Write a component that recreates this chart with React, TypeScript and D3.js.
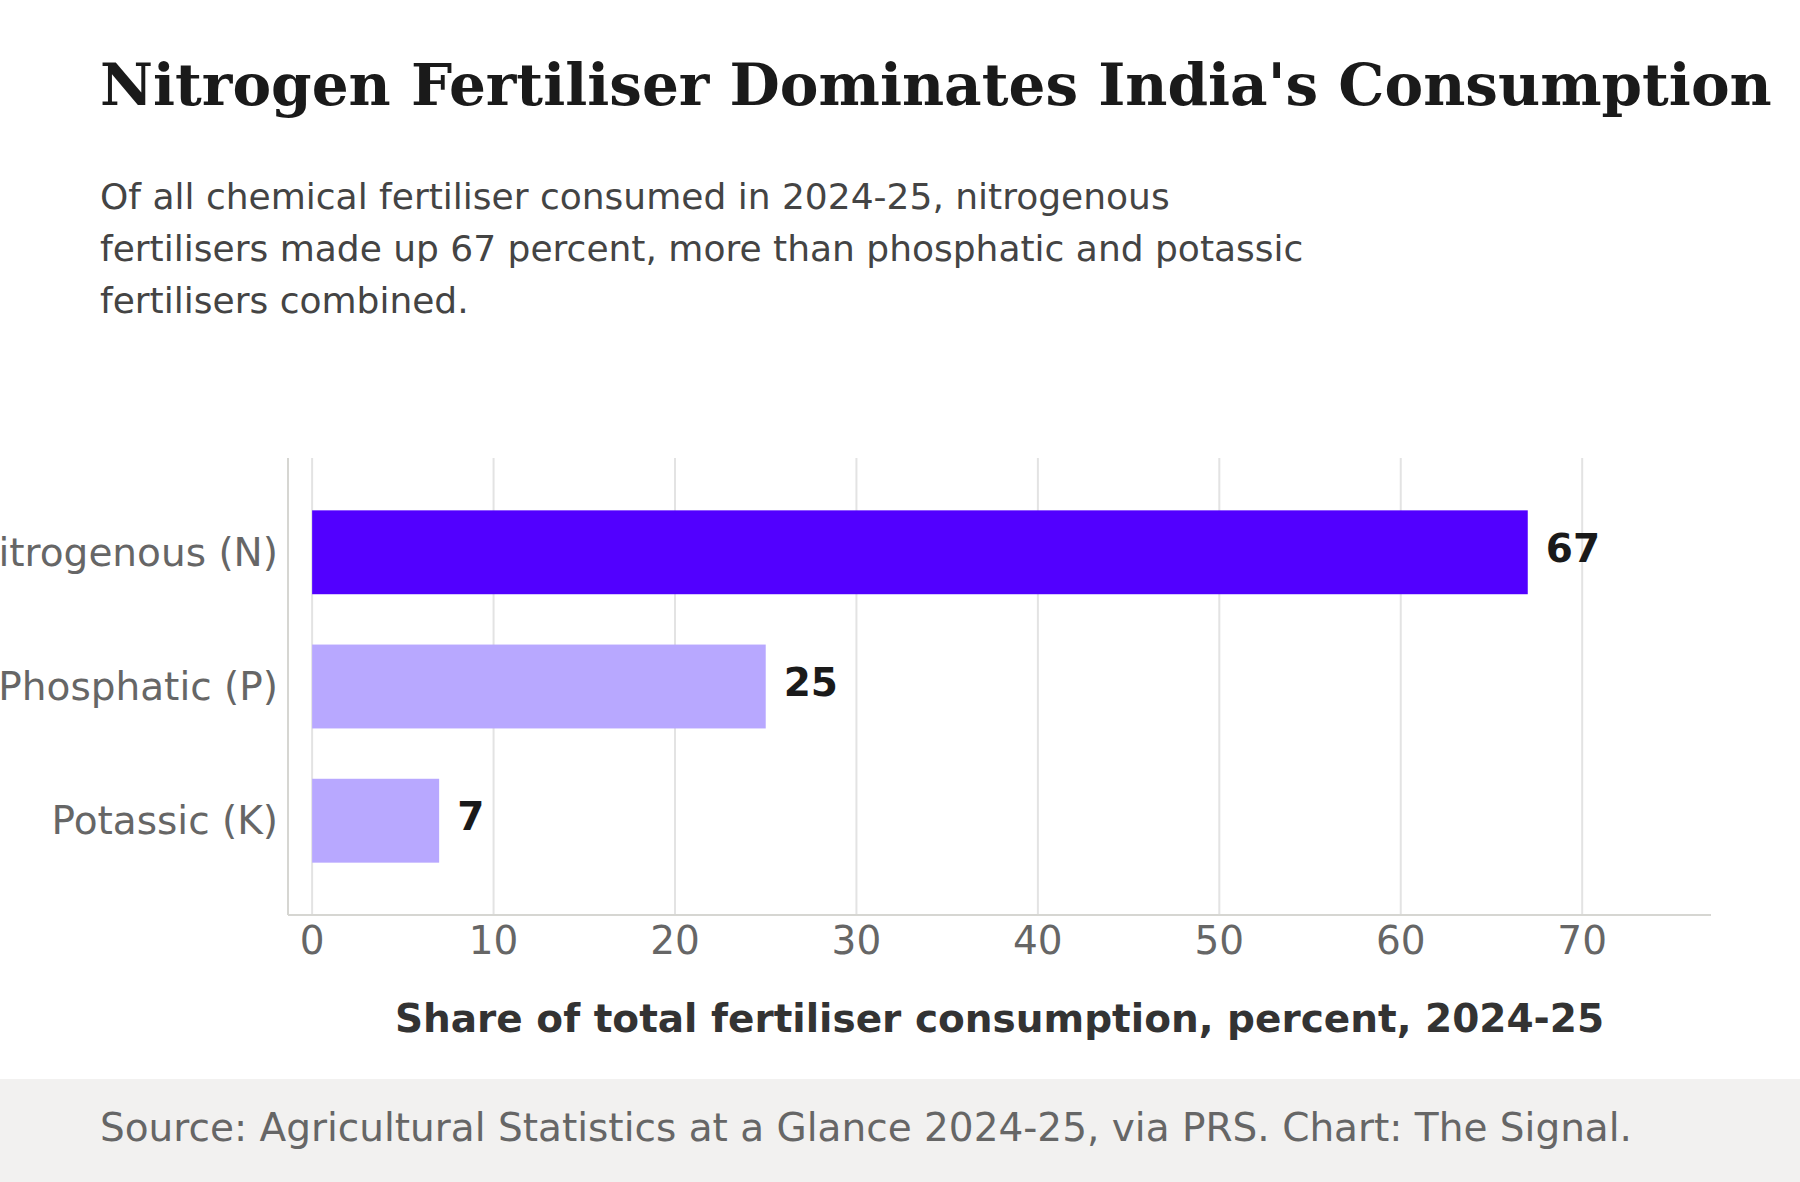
import * as d3 from "d3";
import { useEffect, useRef } from "react";

const categories = ["Nitrogenous (N)", "Phosphatic (P)", "Potassic (K)"];
const shares = [67, 25, 7];
const highlight = ["Nitrogenous (N)"];
const xTicks = [0, 10, 20, 30, 40, 50, 60, 70];

const title = "Nitrogen Fertiliser Dominates India's Consumption";
const subtitle = [
  "Of all chemical fertiliser consumed in 2024-25, nitrogenous",
  "fertilisers made up 67 percent, more than phosphatic and potassic",
  "fertilisers combined.",
];
const xLabel = "Share of total fertiliser consumption, percent, 2024-25";
const source = "Source: Agricultural Statistics at a Glance 2024-25, via PRS. Chart: The Signal.";

const W = 1800;
const H = 1182;
const SANS = "'DejaVu Sans', sans-serif";

export default function App() {
  const ref = useRef<SVGSVGElement>(null);

  useEffect(() => {
    document.body.style.margin = "0";
    if (!ref.current) return;
    const svg = d3.select(ref.current);
    svg.selectAll("*").remove();

    const m = { top: 458, right: 89, bottom: 267, left: 288 };
    const x = d3.scaleLinear().domain([-1.33, 77.1]).range([m.left, W - m.right]);
    const y = d3
      .scaleBand()
      .domain(categories)
      .range([m.top, H - m.bottom])
      .paddingInner(0.375)
      .paddingOuter(0.39);

    svg.append("rect").attr("width", W).attr("height", H).attr("fill", "#ffffff");

    // title + subtitle
    svg.append("text").attr("x", 100).attr("y", 105)
      .attr("font-family", "'DejaVu Serif', serif").attr("font-weight", "bold")
      .attr("font-size", 58).attr("fill", "#1a1a1a").text(title);
    svg.append("g").selectAll("text").data(subtitle).enter().append("text")
      .attr("x", 100).attr("y", (_, i) => 209 + i * 52)
      .attr("font-family", SANS).attr("font-size", 36).attr("fill", "#444444")
      .text((d) => d);

    // gridlines
    svg.append("g").selectAll("line").data(xTicks).enter().append("line")
      .attr("x1", (d) => x(d)).attr("x2", (d) => x(d))
      .attr("y1", m.top).attr("y2", H - m.bottom)
      .attr("stroke", "#e3e3e3").attr("stroke-width", 2);

    // bars
    svg.append("g").selectAll("rect").data(categories).enter().append("rect")
      .attr("x", x(0)).attr("y", (d) => y(d) ?? 0)
      .attr("width", (_, i) => x(shares[i]) - x(0))
      .attr("height", y.bandwidth())
      .attr("fill", (d) => (highlight.includes(d) ? "#5200ff" : "#b8a8ff"));

    // value labels
    svg.append("g").selectAll("text").data(categories).enter().append("text")
      .attr("x", (_, i) => x(shares[i]) + 18)
      .attr("y", (d) => (y(d) ?? 0) + y.bandwidth() / 2 - 1)
      .attr("dominant-baseline", "middle")
      .attr("font-family", SANS).attr("font-weight", "bold").attr("font-size", 39)
      .attr("fill", "#1a1a1a").text((_, i) => String(shares[i]));

    // category labels
    svg.append("g").selectAll("text").data(categories).enter().append("text")
      .attr("x", m.left - 10)
      .attr("y", (d) => (y(d) ?? 0) + y.bandwidth() / 2)
      .attr("dominant-baseline", "central").attr("text-anchor", "end")
      .attr("font-family", SANS).attr("font-size", 39).attr("fill", "#666666")
      .text((d) => d);

    // axes lines
    svg.append("line").attr("x1", m.left).attr("x2", m.left)
      .attr("y1", m.top).attr("y2", H - m.bottom)
      .attr("stroke", "#d6d6d2").attr("stroke-width", 2);
    svg.append("line").attr("x1", m.left).attr("x2", W - m.right)
      .attr("y1", H - m.bottom).attr("y2", H - m.bottom)
      .attr("stroke", "#d6d6d2").attr("stroke-width", 2);

    // tick labels
    svg.append("g").selectAll("text").data(xTicks).enter().append("text")
      .attr("x", (d) => x(d)).attr("y", 954).attr("text-anchor", "middle")
      .attr("font-family", SANS).attr("font-size", 39).attr("fill", "#666666")
      .text((d) => String(d));

    svg.append("text").attr("x", (m.left + W - m.right) / 2).attr("y", 1032)
      .attr("text-anchor", "middle").attr("font-family", SANS).attr("font-weight", "bold")
      .attr("font-size", 39).attr("fill", "#333333").text(xLabel);

    // footer
    svg.append("rect").attr("x", 0).attr("y", 1079).attr("width", W).attr("height", H - 1079)
      .attr("fill", "#f2f1f0");
    svg.append("text").attr("x", 100).attr("y", 1141)
      .attr("font-family", SANS).attr("font-size", 39).attr("fill", "#666666").text(source);
  }, []);

  return <svg ref={ref} width={W} height={H} style={{ display: "block" }} />;
}
